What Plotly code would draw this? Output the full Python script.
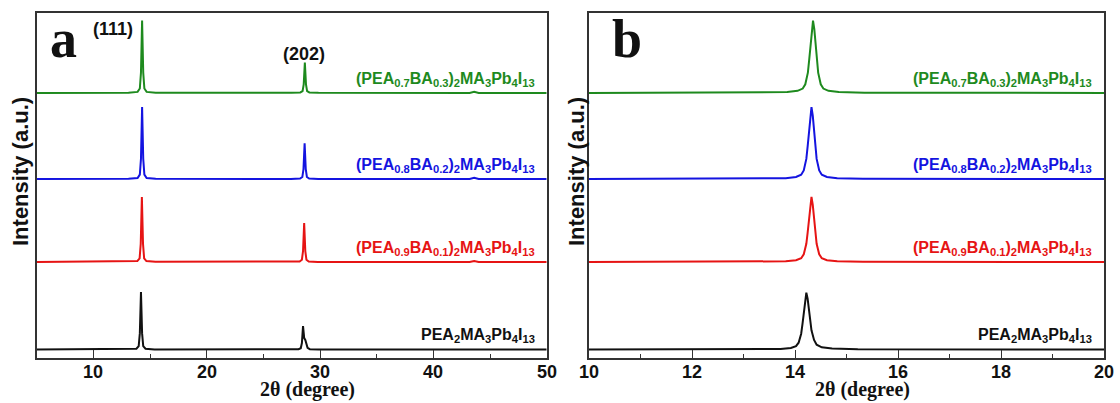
import plotly.graph_objects as go

# ---------------- data ----------------
# Panel a: full 2-theta scan, 5-50 degrees (net intensity, a.u.)
a_x_pea = [5.0, 13.0, 13.8, 14.0, 14.1, 14.2, 14.3, 14.4, 14.6, 15.4,
           27.3, 28.1, 28.3, 28.4, 28.5, 28.6, 28.7, 28.8, 28.9, 29.1, 29.9, 50.0]
a_y_pea = [0.0, 0.05, 0.25, 1.0, 4.7, 16.7, 4.7, 1.0, 0.25, 0.05,
           0.02, 0.1, 0.4, 1.9, 6.8, 3.4, 2.8, 1.6, 0.5, 0.12, 0.02, 0.0]

a_x_ba01 = [5.0, 13.08, 13.88, 14.08, 14.18, 14.28, 14.38, 14.48, 14.68, 15.48,
            27.4, 28.2, 28.4, 28.5, 28.6, 28.7, 28.8, 29.0, 29.8, 43.2, 43.6, 44.0, 50.0]
a_y_ba01 = [0.0, 0.06, 0.28, 1.1, 5.3, 18.9, 5.3, 1.1, 0.28, 0.06,
            0.03, 0.17, 0.7, 3.2, 11.3, 3.2, 0.7, 0.17, 0.03, 0.0, 0.3, 0.0, 0.0]

a_x_ba02 = [5.0, 13.1, 13.9, 14.1, 14.2, 14.3, 14.4, 14.5, 14.7, 15.5,
            27.44, 28.24, 28.44, 28.54, 28.64, 28.74, 28.84, 29.04, 29.84, 43.2, 43.6, 44.0, 50.0]
a_y_ba02 = [0.0, 0.06, 0.3, 1.3, 5.9, 20.9, 5.9, 1.3, 0.3, 0.06,
            0.03, 0.15, 0.6, 2.9, 10.4, 2.9, 0.6, 0.15, 0.03, 0.0, 0.35, 0.0, 0.0]

a_x_ba03 = [5.0, 13.1, 13.9, 14.1, 14.2, 14.3, 14.4, 14.5, 14.7, 15.5,
            27.46, 28.26, 28.46, 28.56, 28.66, 28.76, 28.86, 29.06, 29.86, 43.2, 43.6, 44.0, 50.0]
a_y_ba03 = [0.0, 0.06, 0.3, 1.3, 5.9, 21.0, 5.9, 1.3, 0.3, 0.06,
            0.03, 0.13, 0.5, 2.5, 8.8, 2.5, 0.5, 0.13, 0.03, 0.0, 0.35, 0.0, 0.0]

# Panel b: (111) reflection, 10-20 degrees
b_x_pea = [10.0, 13.22, 13.72, 13.92, 14.02, 14.07, 14.12, 14.145, 14.17, 14.195, 14.22,
           14.245, 14.27, 14.295, 14.32, 14.37, 14.42, 14.52, 14.72, 15.22, 20.0]
b_y_pea = [0.0, 0.07, 0.2, 0.46, 1.0, 2.0, 4.6, 7.4, 10.9, 14.5, 16.5,
           14.8, 11.8, 8.6, 5.6, 2.8, 1.4, 0.65, 0.28, 0.08, 0.0]

b_x_ba01 = [10.0, 13.32, 13.82, 14.02, 14.12, 14.17, 14.22, 14.245, 14.27, 14.295, 14.32,
            14.345, 14.37, 14.395, 14.42, 14.47, 14.52, 14.62, 14.82, 15.32, 20.0]
b_y_ba01 = [0.0, 0.08, 0.23, 0.53, 1.13, 2.27, 5.3, 8.5, 12.5, 16.6, 18.9,
            16.6, 12.5, 8.5, 5.3, 2.27, 1.13, 0.53, 0.23, 0.08, 0.0]

b_x_ba02 = [10.0, 13.32, 13.82, 14.02, 14.12, 14.17, 14.22, 14.245, 14.27, 14.295, 14.32,
            14.345, 14.37, 14.395, 14.42, 14.47, 14.52, 14.62, 14.82, 15.32, 20.0]
b_y_ba02 = [0.0, 0.08, 0.25, 0.6, 1.25, 2.5, 5.85, 9.4, 13.8, 18.4, 20.9,
            18.4, 13.8, 9.4, 5.85, 2.5, 1.25, 0.6, 0.25, 0.08, 0.0]

b_x_ba03 = [10.0, 13.35, 13.85, 14.05, 14.15, 14.20, 14.25, 14.275, 14.30, 14.325, 14.35,
            14.375, 14.40, 14.425, 14.45, 14.50, 14.55, 14.65, 14.85, 15.35, 20.0]
b_y_ba03 = [0.0, 0.08, 0.25, 0.6, 1.26, 2.5, 5.9, 9.5, 13.9, 18.5, 21.0,
            18.5, 13.9, 9.5, 5.9, 2.5, 1.26, 0.6, 0.25, 0.08, 0.0]

a_ticks = [10, 20, 30, 40, 50]
b_ticks = [10, 12, 14, 16, 18, 20]

sample_labels = [
    "PEA<sub>2</sub>MA<sub>3</sub>Pb<sub>4</sub>I<sub>13</sub>",
    "(PEA<sub>0.9</sub>BA<sub>0.1</sub>)<sub>2</sub>MA<sub>3</sub>Pb<sub>4</sub>I<sub>13</sub>",
    "(PEA<sub>0.8</sub>BA<sub>0.2</sub>)<sub>2</sub>MA<sub>3</sub>Pb<sub>4</sub>I<sub>13</sub>",
    "(PEA<sub>0.7</sub>BA<sub>0.3</sub>)<sub>2</sub>MA<sub>3</sub>Pb<sub>4</sub>I<sub>13</sub>",
]
reflections = ["(111)", "(202)"]
reflection_pos = [11.75, 28.6]

# ---------------- styling ----------------
stack_offsets = [2.3, 27.7, 51.8, 76.8]
colors = ["#111111", "#e61414", "#1414e0", "#1e8a1e"]
SANS = "Liberation Sans, Arial, sans-serif"
SERIF = "Liberation Serif, Times New Roman, serif"
FRAME = "#333333"

panel_a = [(a_x_pea, a_y_pea), (a_x_ba01, a_y_ba01), (a_x_ba02, a_y_ba02), (a_x_ba03, a_y_ba03)]
panel_b = [(b_x_pea, b_y_pea), (b_x_ba01, b_y_ba01), (b_x_ba02, b_y_ba02), (b_x_ba03, b_y_ba03)]

fig = go.Figure()
for (xs, ys), off, col in zip(panel_a, stack_offsets, colors):
    fig.add_trace(go.Scatter(x=xs, y=[v + off for v in ys], mode="lines",
                             line=dict(color=col, width=2), xaxis="x", yaxis="y",
                             showlegend=False, hoverinfo="skip"))
for (xs, ys), off, col in zip(panel_b, stack_offsets, colors):
    fig.add_trace(go.Scatter(x=xs, y=[v + off for v in ys], mode="lines",
                             line=dict(color=col, width=2), xaxis="x2", yaxis="y2",
                             showlegend=False, hoverinfo="skip"))

W, H = 1120, 403
y_dom = [1 - 357.5 / H, 1 - 13 / H]

def xaxis_style(dom, rng, ticks, minor_dtick, anchor):
    return dict(domain=dom, range=rng, anchor=anchor,
                tickmode="array", tickvals=ticks, showticklabels=False,
                showline=True, mirror=True, linecolor=FRAME, linewidth=1.6,
                ticks="inside", ticklen=8, tickwidth=1.4, tickcolor=FRAME,
                minor=dict(ticks="inside", ticklen=4, tickwidth=1.4, tickcolor=FRAME,
                           dtick=minor_dtick, tick0=0),
                showgrid=False, zeroline=False)

def yaxis_style(anchor):
    return dict(domain=y_dom, range=[0, 100], anchor=anchor,
                showline=True, mirror=True, linecolor=FRAME, linewidth=1.6,
                showticklabels=False, ticks="", showgrid=False, zeroline=False)

fig.update_layout(
    width=W, height=H,
    margin=dict(l=0, r=0, t=0, b=0),
    paper_bgcolor="white", plot_bgcolor="white",
    xaxis=xaxis_style([36.7 / W, 546.7 / W], [5, 50], a_ticks, 5, "y"),
    xaxis2=xaxis_style([589 / W, 1104 / W], [10, 20], b_ticks, 1, "y2"),
    yaxis=yaxis_style("x"),
    yaxis2=yaxis_style("x2"),
)

ann = []
# bold tick labels under each x axis, positioned on the axis values
for xr, ticks in (("x", a_ticks), ("x2", b_ticks)):
    for t in ticks:
        ann.append(dict(x=t, y=1 - 371.5 / H, xref=xr, yref="paper", text=f"<b>{t}</b>",
                        showarrow=False, xanchor="center", yanchor="middle",
                        font=dict(family=SANS, size=18, color="#111111")))
# sample names, right-aligned above each trace
for lab, off, col in zip(sample_labels, stack_offsets, colors):
    for xr, yr, xpos in (("x", "y", 49.15), ("x2", "y2", 19.81)):
        ann.append(dict(x=xpos, y=off + 4.0, xref=xr, yref=yr, text=f"<b>{lab}</b>",
                        xanchor="right", yanchor="middle", showarrow=False,
                        font=dict(family=SANS, size=16, color=col)))
# reflection indices in panel a
ann.append(dict(x=reflection_pos[0], y=95.3, xref="x", yref="y", text=f"<b>{reflections[0]}</b>",
                showarrow=False, xanchor="center", yanchor="middle",
                font=dict(family=SANS, size=18, color="#111111")))
ann.append(dict(x=reflection_pos[1], y=88.2, xref="x", yref="y", text=f"<b>{reflections[1]}</b>",
                showarrow=False, xanchor="center", yanchor="middle",
                font=dict(family=SANS, size=18, color="#111111")))
# panel letters
for letter, xpx in (("a", 48), ("b", 610)):
    ann.append(dict(x=xpx / W, y=1 - 39 / H, xref="paper", yref="paper", text=f"<b>{letter}</b>",
                    showarrow=False, xanchor="left", yanchor="middle",
                    font=dict(family=SERIF, size=54, color="#111111")))
# axis titles
for xpx in (307, 862):
    ann.append(dict(x=xpx / W, y=0, xref="paper", yref="paper",
                    text="<b>2θ (degree)</b>", showarrow=False, xanchor="center", yanchor="bottom",
                    font=dict(family=SERIF, size=20, color="#111111")))
for xpx in (20, 576):
    ann.append(dict(x=xpx / W, y=1 - 172 / H, xref="paper", yref="paper",
                    text="<b>Intensity (a.u.)</b>", showarrow=False, textangle=-90,
                    xanchor="center", yanchor="middle",
                    font=dict(family=SANS, size=22, color="#111111")))
fig.update_layout(annotations=ann)

fig.write_html("out.html")
